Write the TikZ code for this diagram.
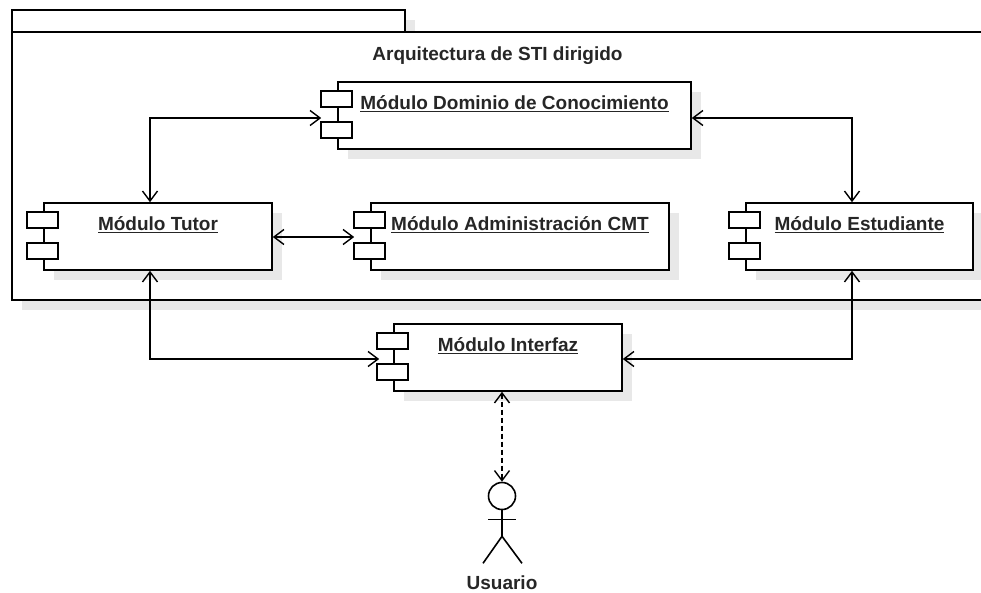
\documentclass[tikz,border=0pt]{standalone}
\usepackage{fontspec}
\setmainfont{Liberation Sans}
\usetikzlibrary{arrows.meta,shadows}

\tikzset{
  modulo/.style={draw, line width=1.6pt, fill=white, minimum height=67pt, inner sep=0pt,
    drop shadow={shadow xshift=10pt, shadow yshift=-10pt, fill=black!9, opacity=1}},
  icono/.style={draw, line width=1.5pt, fill=white},
  conn/.style={line width=1.4pt, {Straight Barb[length=10pt,width=15pt]}-{Straight Barb[length=10pt,width=15pt]}},
  texto/.style={font=\fontsize{19}{23}\selectfont\bfseries, text=black!85}
}

\begin{document}
\begin{tikzpicture}[x=1pt, y=-1pt]
  \useasboundingbox (0,0) rectangle (981,592);
  \clip (0,0) rectangle (981,592);

  % paquete
  \fill[black!9] (22,20) rectangle (415,42);
  \fill[black!9] (22,42) rectangle (1010,310);
  \draw[line width=1.6pt, fill=white] (12,10) rectangle (405,32);
  \draw[line width=1.6pt, fill=white] (12,32) rectangle (1000,300);
  \node (titulo) [texto, anchor=base] at (497.5,60) {Arquitectura de STI dirigido};

  % modulos
  \node (dominio) [modulo, minimum width=353pt, label={[texto, anchor=base, yshift=-28pt]north:\underline{Módulo Dominio de Conocimiento}}] at (514.5,115.5) {};
  \node (tutor) [modulo, minimum width=228pt, label={[texto, anchor=base, yshift=-28pt]north:\underline{Módulo Tutor}}] at (158,236.5) {};
  \node (admin) [modulo, minimum width=298pt, label={[texto, anchor=base, yshift=-28pt]north:\underline{Módulo Administración CMT}}] at (520,236.5) {};
  \node (estudiante) [modulo, minimum width=227pt, label={[texto, anchor=base, yshift=-28pt]north:\underline{Módulo Estudiante}}] at (859.5,236.5) {};
  \node (interfaz) [modulo, minimum width=228pt, label={[texto, anchor=base, yshift=-28pt]north:\underline{Módulo Interfaz}}] at (508,357.5) {};

  \foreach \m in {dominio, tutor, admin, estudiante, interfaz} {
    \draw[icono] ([shift={(-16,10)}]\m.north west) rectangle ++(31,16);
    \draw[icono] ([shift={(-16,41)}]\m.north west) rectangle ++(31,16);
  }

  % actor
  \node (cabeza) [circle, draw, line width=1.6pt, minimum size=27pt, inner sep=0pt] at (502,496) {};
  \draw[line width=1.6pt] (cabeza.south) -- ++(0,26) coordinate (cadera);
  \draw[line width=1.6pt] ([shift={(-14,9)}]cabeza.south) -- ++(28,0);
  \draw[line width=1.6pt] (cadera) -- ++(-19,27);
  \draw[line width=1.6pt] (cadera) -- ++(20,27);
  \node (usuario) [texto] at (502,583) {Usuario};

  % conectores
  \draw[conn] ([xshift=-16pt, yshift=-2.5pt]dominio.west) -| ([xshift=-8pt]tutor.north);
  \draw[conn] ([yshift=-2.5pt]dominio.east) -| ([xshift=-7.5pt]estudiante.north);
  \draw[conn] ([yshift=-0.5pt]tutor.east) -- ([xshift=-16pt, yshift=-0.5pt]admin.west);
  \draw[conn] ([xshift=-8pt]tutor.south) |- ([xshift=-14pt, yshift=-1.5pt]interfaz.west);
  \draw[conn] ([xshift=-7.5pt]estudiante.south) |- ([yshift=-1.5pt]interfaz.east);
  \draw[conn, dash pattern=on 5pt off 3pt] ([xshift=-6pt]interfaz.south) -- (cabeza.north);
\end{tikzpicture}
\end{document}
